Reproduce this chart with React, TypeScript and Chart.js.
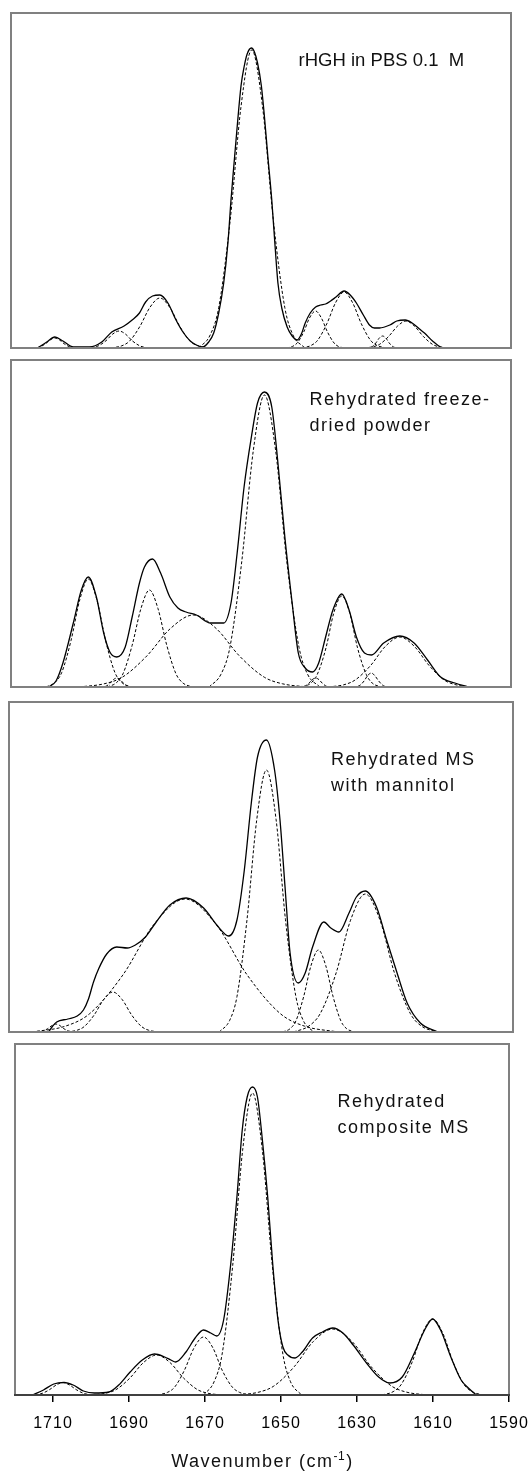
import React, { useEffect, useRef } from "react";
import { Chart, registerables } from "chart.js";

Chart.register(...registerables);

// ---------------- data (wavenumber in cm-1, absorbance in arbitrary units) ----------------
const xTicks = [1710, 1690, 1670, 1650, 1630, 1610, 1590];
const xMin = 1590;
const xMax = 1720;
const xAxisTitle = ["Wavenumber (cm", "-1", ")"];

// Panel 1: rHGH in PBS 0.1 M
const p1Label = ["rHGH in PBS 0.1  M"];
const p1YMax = 335;
const p1TotalWn = [1713.1, 1710.7, 1708.6, 1706.5, 1703.8, 1699.6, 1696.4, 1693.8, 1690.6, 1688.5, 1686.6, 1685.0, 1683.2, 1681.3, 1679.2, 1677.1, 1675.3, 1673.4, 1671.8, 1670.2, 1668.6, 1667.3, 1666.0, 1664.7, 1663.6, 1662.8, 1662.0, 1661.2, 1660.2, 1659.4, 1658.6, 1657.5, 1656.7, 1655.9, 1654.9, 1654.1, 1653.3, 1652.2, 1651.4, 1650.6, 1649.6, 1648.2, 1646.9, 1645.6, 1644.5, 1643.5, 1642.2, 1640.8, 1639.5, 1638.2, 1636.9, 1635.5, 1633.4, 1631.8, 1630.2, 1628.4, 1626.8, 1625.5, 1624.2, 1621.5, 1619.7, 1617.5, 1615.7, 1613.8, 1612.5, 1610.4, 1608.3, 1606.4];
const p1Total = [0, 6, 11, 7, 1, 1, 6, 16, 22, 28, 35, 46, 52, 53, 45, 28, 16, 7, 3, 1, 6, 15, 35, 65, 105, 148, 185, 221, 262, 281, 294, 300, 296, 285, 262, 231, 195, 148, 105, 65, 40, 21, 12, 8, 14, 25, 35, 41, 43, 44, 47, 51, 57, 53, 45, 33, 23, 20, 20, 23, 27, 28, 25, 19, 15, 7, 1, 0];
const p1b1Wn = [1714.5, 1713.2, 1712.3, 1711.0, 1709.8, 1708.6, 1707.4, 1706.2, 1704.9, 1704.0, 1702.7];
const p1b1 = [0, 0.4, 1.4, 4.3, 8.1, 10, 8.1, 4.3, 1.4, 0.4, 0];
const p1b2Wn = [1700.4, 1698.5, 1697.2, 1695.3, 1693.6, 1691.9, 1690.2, 1688.5, 1686.6, 1685.3, 1683.4];
const p1b2 = [0, 0.7, 2.3, 7.3, 13.8, 17, 13.8, 7.3, 2.3, 0.7, 0];
const p1b3Wn = [1694.0, 1691.2, 1689.2, 1686.5, 1683.9, 1681.3, 1678.7, 1676.1, 1673.4, 1671.4, 1668.6];
const p1b3 = [0, 2.2, 6.8, 21.5, 40.5, 50, 40.5, 21.5, 6.8, 2.2, 0];
const p1b4Wn = [1671.2, 1668.2, 1666.0, 1663.0, 1660.2, 1657.4, 1654.6, 1651.8, 1648.8, 1646.7, 1643.6];
const p1b4 = [0, 13.1, 40.2, 128.1, 241.4, 298, 241.4, 128.1, 40.2, 13.1, 0];
const p1b5Wn = [1648.4, 1646.8, 1645.6, 1643.9, 1642.4, 1640.8, 1639.3, 1637.7, 1636.0, 1634.9, 1633.2];
const p1b5 = [0, 1.6, 5.0, 15.9, 30.0, 37, 30.0, 15.9, 5.0, 1.6, 0];
const p1b6Wn = [1644.4, 1642.0, 1640.3, 1637.9, 1635.6, 1633.4, 1631.2, 1628.9, 1626.5, 1624.8, 1622.4];
const p1b6 = [0, 2.5, 7.6, 24.1, 45.4, 56, 45.4, 24.1, 7.6, 2.5, 0];
const p1b7Wn = [1627.6, 1626.7, 1626.0, 1625.1, 1624.3, 1623.4, 1622.5, 1621.7, 1620.8, 1620.1, 1619.2];
const p1b7 = [0, 0.5, 1.6, 5.2, 9.7, 12, 9.7, 5.2, 1.6, 0.5, 0];
const p1b8Wn = [1628.3, 1625.9, 1624.2, 1621.8, 1619.5, 1617.3, 1615.1, 1612.8, 1610.4, 1608.7, 1606.3];
const p1b8 = [0, 1.2, 3.6, 11.6, 21.9, 27, 21.9, 11.6, 3.6, 1.2, 0];

// Panel 2: Rehydrated freeze-dried powder
const p2Label = ["Rehydrated freeze-", "dried powder"];
const p2YMax = 327;
const p2TotalWn = [1710.2, 1708.3, 1706.5, 1703.8, 1701.7, 1699.9, 1697.8, 1695.9, 1694.3, 1692.5, 1690.3, 1688.5, 1686.6, 1685.3, 1683.2, 1681.1, 1678.7, 1676.6, 1674.5, 1671.8, 1668.1, 1664.7, 1662.8, 1661.2, 1659.4, 1657.5, 1655.9, 1654.1, 1652.2, 1650.6, 1648.8, 1646.9, 1645.3, 1643.5, 1641.6, 1640.0, 1638.2, 1636.3, 1634.0, 1632.1, 1630.2, 1628.1, 1626.3, 1623.1, 1618.9, 1615.2, 1611.7, 1608.3, 1604.6, 1601.1];
const p2Total = [0, 6, 24, 64, 97, 110, 90, 54, 35, 30, 40, 70, 104, 120, 128, 114, 90, 79, 75, 72, 64, 64, 84, 134, 200, 250, 284, 295, 280, 224, 150, 84, 34, 19, 15, 24, 50, 77, 93, 77, 50, 34, 32, 44, 51, 44, 27, 10, 4, 0];
const p2b1Wn = [1710.9, 1708.5, 1706.8, 1704.4, 1702.1, 1699.9, 1697.7, 1695.4, 1693.0, 1691.3, 1688.9];
const p2b1 = [0, 4.8, 14.6, 46.4, 87.5, 108, 87.5, 46.4, 14.6, 4.8, 0];
const p2b2Wn = [1696.7, 1695.8, 1695.1, 1694.2, 1693.4, 1692.5, 1691.6, 1690.8, 1689.9, 1689.2, 1688.3];
const p2b2 = [0, 0.4, 1.2, 3.9, 7.3, 9, 7.3, 3.9, 1.2, 0.4, 0];
const p2b3Wn = [1695.0, 1692.6, 1690.9, 1688.5, 1686.2, 1684.0, 1681.8, 1679.5, 1677.1, 1675.4, 1673.0];
const p2b3 = [0, 4.3, 13.1, 41.7, 78.6, 97, 78.6, 41.7, 13.1, 4.3, 0];
const p2b4Wn = [1702.3, 1695.8, 1691.1, 1684.7, 1678.6, 1672.6, 1666.6, 1660.6, 1654.1, 1649.4, 1642.9];
const p2b4 = [0, 3.2, 9.7, 31.0, 58.3, 72, 58.3, 31.0, 9.7, 3.2, 0];
const p2b5Wn = [1668.5, 1665.4, 1663.1, 1660.0, 1657.0, 1654.1, 1651.2, 1648.3, 1645.1, 1642.9, 1639.7];
const p2b5 = [0, 12.8, 39.4, 125.6, 236.5, 292, 236.5, 125.6, 39.4, 12.8, 0];
const p2b6Wn = [1645.0, 1644.1, 1643.4, 1642.5, 1641.7, 1640.8, 1639.9, 1639.1, 1638.2, 1637.5, 1636.6];
const p2b6 = [0, 0.4, 1.2, 3.9, 7.3, 9, 7.3, 3.9, 1.2, 0.4, 0];
const p2b7Wn = [1644.2, 1642.0, 1640.4, 1638.1, 1636.1, 1634.0, 1631.9, 1629.9, 1627.6, 1626.1, 1623.8];
const p2b7 = [0, 4.0, 12.3, 39.1, 73.7, 91, 73.7, 39.1, 12.3, 4.0, 0];
const p2b8Wn = [1631.0, 1630.0, 1629.2, 1628.2, 1627.3, 1626.3, 1625.4, 1624.4, 1623.4, 1622.7, 1621.6];
const p2b8 = [0, 0.6, 1.9, 6.0, 11.3, 14, 11.3, 6.0, 1.9, 0.6, 0];
const p2b9Wn = [1637.5, 1633.5, 1630.6, 1626.5, 1622.7, 1618.9, 1615.1, 1611.3, 1607.3, 1604.3, 1600.3];
const p2b9 = [0, 2.2, 6.8, 21.5, 40.5, 50, 40.5, 21.5, 6.8, 2.2, 0];

// Panel 3: Rehydrated MS with mannitol
const p3Label = ["Rehydrated MS", "with mannitol"];
const p3YMax = 330;
const p3TotalWn = [1709.8, 1708.7, 1707.7, 1704.8, 1702.4, 1700.8, 1699.5, 1698.2, 1696.9, 1694.8, 1692.2, 1689.5, 1687.4, 1684.8, 1682.2, 1678.5, 1674.3, 1669.8, 1666.4, 1663.3, 1661.2, 1659.3, 1657.5, 1655.9, 1653.6, 1651.5, 1650.1, 1648.8, 1647.5, 1645.4, 1643.6, 1641.7, 1638.8, 1637.0, 1634.9, 1632.3, 1630.4, 1628.1, 1625.2, 1622.6, 1619.9, 1617.3, 1613.9, 1609.4];
const p3Total = [0, 6, 10, 13, 16, 22, 33, 50, 63, 78, 85, 84, 87, 95, 109, 127, 134, 124, 107, 96, 112, 162, 229, 275, 292, 262, 212, 145, 79, 49, 59, 85, 110, 104, 100, 119, 135, 141, 125, 92, 59, 29, 9, 0];
const p3b1Wn = [1713.0, 1711.9, 1711.1, 1710.0, 1708.9, 1707.9, 1706.9, 1705.9, 1704.7, 1704.0, 1702.9];
const p3b1 = [0, 0.4, 1.1, 3.4, 6.5, 8, 6.5, 3.4, 1.1, 0.4, 0];
const p3b2Wn = [1705.0, 1702.4, 1700.6, 1698.0, 1695.6, 1693.2, 1690.8, 1688.4, 1685.8, 1684.0, 1681.4];
const p3b2 = [0, 1.8, 5.4, 17.2, 32.4, 40, 32.4, 17.2, 5.4, 1.8, 0];
const p3b3Wn = [1714.1, 1705.4, 1699.3, 1690.6, 1682.6, 1674.6, 1666.6, 1658.6, 1649.9, 1643.8, 1635.1];
const p3b3 = [0, 5.9, 18.0, 57.2, 107.7, 133, 107.7, 57.2, 18.0, 5.9, 0];
const p3b4Wn = [1665.8, 1663.1, 1661.2, 1658.6, 1656.1, 1653.6, 1651.1, 1648.7, 1646.0, 1644.1, 1641.4];
const p3b4 = [0, 11.5, 35.4, 112.7, 212.2, 262, 212.2, 112.7, 35.4, 11.5, 0];
const p3b5Wn = [1649.4, 1647.4, 1646.0, 1644.0, 1642.1, 1640.2, 1638.3, 1636.4, 1634.4, 1633.0, 1631.0];
const p3b5 = [0, 3.6, 11.1, 35.3, 66.4, 82, 66.4, 35.3, 11.1, 3.6, 0];
const p3b6Wn = [1646.6, 1642.6, 1639.7, 1635.6, 1631.9, 1628.1, 1624.3, 1620.6, 1616.5, 1613.7, 1609.6];
const p3b6 = [0, 6.1, 18.6, 59.3, 111.8, 138, 111.8, 59.3, 18.6, 6.1, 0];

// Panel 4: Rehydrated composite MS
const p4Label = ["Rehydrated", "composite MS"];
const p4YMax = 351;
const p4TotalWn = [1715.4, 1712.5, 1709.8, 1707.1, 1704.7, 1702.0, 1699.1, 1695.3, 1692.7, 1689.7, 1686.5, 1683.3, 1680.6, 1679.0, 1677.7, 1675.0, 1672.6, 1670.4, 1668.5, 1666.9, 1665.1, 1663.2, 1661.6, 1660.2, 1658.9, 1657.5, 1656.2, 1654.9, 1653.5, 1652.2, 1650.8, 1649.5, 1648.2, 1646.3, 1644.4, 1641.7, 1639.1, 1636.4, 1633.7, 1631.0, 1627.5, 1624.3, 1621.4, 1618.1, 1614.9, 1612.2, 1610.1, 1608.0, 1605.3, 1602.6, 1600.7, 1598.6];
const p4Total = [0, 5, 11, 12.5, 10, 4, 2, 3, 10, 23, 35, 41, 38, 35, 33, 43, 57, 65, 62, 59, 75, 132, 198, 265, 298, 308, 298, 255, 198, 132, 75, 48, 40, 37, 43, 57, 63, 67, 62, 50, 32, 18, 12, 18, 42, 65, 76, 65, 38, 15, 7, 0];
const p4b1Wn = [1716.0, 1714.1, 1712.8, 1710.9, 1709.1, 1707.4, 1705.7, 1703.9, 1702.0, 1700.7, 1698.8];
const p4b1 = [0, 0.6, 1.7, 5.4, 10.1, 12.5, 10.1, 5.4, 1.7, 0.6, 0];
const p4b2Wn = [1699.9, 1696.1, 1693.4, 1689.7, 1686.2, 1682.7, 1679.2, 1675.7, 1672.0, 1669.3, 1665.6];
const p4b2 = [0, 1.8, 5.4, 17.2, 32.4, 40, 32.4, 17.2, 5.4, 1.8, 0];
const p4b3Wn = [1682.6, 1679.9, 1678.0, 1675.4, 1672.9, 1670.4, 1667.9, 1665.5, 1662.8, 1660.9, 1658.2];
const p4b3 = [0, 2.6, 7.8, 24.9, 47.0, 58, 47.0, 24.9, 7.8, 2.6, 0];
const p4b4Wn = [1670.4, 1667.6, 1665.5, 1662.7, 1660.1, 1657.5, 1654.9, 1652.3, 1649.5, 1647.5, 1644.6];
const p4b4 = [0, 13.3, 40.8, 129.9, 244.6, 302, 244.6, 129.9, 40.8, 13.3, 0];
const p4b5Wn = [1661.3, 1655.8, 1651.9, 1646.5, 1641.5, 1636.4, 1631.3, 1626.3, 1620.9, 1617.0, 1611.5];
const p4b5 = [0, 2.9, 8.9, 28.4, 53.5, 66, 53.5, 28.4, 8.9, 2.9, 0];
const p4b6Wn = [1623.4, 1620.5, 1618.4, 1615.5, 1612.8, 1610.1, 1607.4, 1604.7, 1601.8, 1599.7, 1596.8];
const p4b6 = [0, 3.3, 10.3, 32.7, 61.6, 76, 61.6, 32.7, 10.3, 3.3, 0];

const PANELS = [
  {
    label: p1Label, yMax: p1YMax, totalWn: p1TotalWn, total: p1Total,
    bands: [[p1b1Wn, p1b1], [p1b2Wn, p1b2], [p1b3Wn, p1b3], [p1b4Wn, p1b4], [p1b5Wn, p1b5], [p1b6Wn, p1b6], [p1b7Wn, p1b7], [p1b8Wn, p1b8]],
  },
  {
    label: p2Label, yMax: p2YMax, totalWn: p2TotalWn, total: p2Total,
    bands: [[p2b1Wn, p2b1], [p2b2Wn, p2b2], [p2b3Wn, p2b3], [p2b4Wn, p2b4], [p2b5Wn, p2b5], [p2b6Wn, p2b6], [p2b7Wn, p2b7], [p2b8Wn, p2b8], [p2b9Wn, p2b9]],
  },
  {
    label: p3Label, yMax: p3YMax, totalWn: p3TotalWn, total: p3Total,
    bands: [[p3b1Wn, p3b1], [p3b2Wn, p3b2], [p3b3Wn, p3b3], [p3b4Wn, p3b4], [p3b5Wn, p3b5], [p3b6Wn, p3b6]],
  },
  {
    label: p4Label, yMax: p4YMax, totalWn: p4TotalWn, total: p4Total,
    bands: [[p4b1Wn, p4b1], [p4b2Wn, p4b2], [p4b3Wn, p4b3], [p4b4Wn, p4b4], [p4b5Wn, p4b5], [p4b6Wn, p4b6]],
  },
];

// ---------------- layout & style ----------------
const FONT = '"Liberation Sans", Arial, Helvetica, sans-serif';
const PAGE_W = 532;
const PAGE_H = 1472;
const PAD = 4;
const AXIS_H = 77;
const LAYOUT = [
  { left: 11, right: 511, top: 13, bottom: 348, labelX: 298.6, labelY: [66], labelSize: 18.5, labelSpacing: 0 },
  { left: 11, right: 511, top: 360, bottom: 687, labelX: 309.5, labelY: [405, 431], labelSize: 18, labelSpacing: 1.5 },
  { left: 9, right: 513, top: 702, bottom: 1032, labelX: 331, labelY: [765, 791], labelSize: 18, labelSpacing: 1.5 },
  { left: 15, right: 509, top: 1044, bottom: 1395, labelX: 337.6, labelY: [1107, 1133], labelSize: 18, labelSpacing: 1.5 },
];
const TITLE_BASELINE = 1467;

function SpectrumPanel({ index }: { index: number }) {
  const ref = useRef<HTMLCanvasElement | null>(null);
  const lay = LAYOUT[index];
  const isLast = index === PANELS.length - 1;
  const canvasTop = lay.top - PAD;
  const canvasH = isLast ? PAGE_H - canvasTop : lay.bottom - lay.top + 2 * PAD;

  useEffect(() => {
    const p = PANELS[index];
    const toPts = (xs: number[], ys: number[]) => xs.map((x, i) => ({ x, y: ys[i] }));
    const bandSets = p.bands.map(([xs, ys]) => ({
      data: toPts(xs as number[], ys as number[]),
      borderColor: "#000",
      borderWidth: 1,
      borderDash: [3, 2],
      pointRadius: 0,
      fill: false,
      cubicInterpolationMode: "monotone",
    }));
    const totalSet = {
      data: toPts(p.totalWn, p.total),
      borderColor: "#000",
      borderWidth: 1.3,
      pointRadius: 0,
      fill: false,
      cubicInterpolationMode: "monotone",
    };

    const frame = {
      id: "frame" + index,
      beforeDraw(chart: any) {
        if (isLast) chart.ctx.letterSpacing = "1px";
      },
      afterDraw(chart: any) {
        const { ctx, chartArea: a } = chart;
        ctx.save();
        ctx.letterSpacing = "0px";
        ctx.strokeStyle = "#808080";
        ctx.lineWidth = 2;
        ctx.strokeRect(a.left, a.top, a.right - a.left, a.bottom - a.top);
        if (isLast) {
          ctx.strokeStyle = "#404040";
          ctx.beginPath();
          ctx.moveTo(a.left - 1, a.bottom);
          ctx.lineTo(a.right + 1, a.bottom);
          ctx.stroke();
        }
        ctx.fillStyle = "#111";
        ctx.textAlign = "left";
        ctx.textBaseline = "alphabetic";
        ctx.font = `${lay.labelSize}px ${FONT}`;
        ctx.letterSpacing = `${lay.labelSpacing}px`;
        p.label.forEach((line: string, i: number) => {
          ctx.fillText(line, lay.labelX, lay.labelY[i] - canvasTop);
        });
        if (isLast) {
          const base = TITLE_BASELINE - canvasTop;
          ctx.letterSpacing = "1.5px";
          ctx.font = `18px ${FONT}`;
          const w1 = ctx.measureText(xAxisTitle[0]).width;
          const w3 = ctx.measureText(xAxisTitle[2]).width;
          ctx.font = `12px ${FONT}`;
          ctx.letterSpacing = "0.5px";
          const w2 = ctx.measureText(xAxisTitle[1]).width;
          const x0 = (a.left + a.right) / 2 - (w1 + w2 + w3) / 2;
          ctx.fillText(xAxisTitle[1], x0 + w1, base - 7);
          ctx.font = `18px ${FONT}`;
          ctx.letterSpacing = "1.5px";
          ctx.fillText(xAxisTitle[0], x0, base);
          ctx.fillText(xAxisTitle[2], x0 + w1 + w2 + 1, base);
        }
        ctx.restore();
      },
    };

    const chart = new Chart(ref.current as HTMLCanvasElement, {
      type: "line",
      data: { datasets: [...bandSets, totalSet] as any },
      options: {
        responsive: true,
        maintainAspectRatio: false,
        animation: false,
        devicePixelRatio: 1,
        events: [],
        layout: {
          padding: { left: lay.left, right: PAGE_W - lay.right, top: PAD, bottom: isLast ? 0 : PAD },
        },
        plugins: { legend: { display: false }, tooltip: { enabled: false }, title: { display: false } },
        scales: {
          x: {
            type: "linear",
            min: xMin,
            max: xMax,
            reverse: true,
            display: isLast,
            afterBuildTicks: (s: any) => {
              s.ticks = xTicks.map((v) => ({ value: v }));
            },
            afterFit: (s: any) => {
              s.height = isLast ? AXIS_H : 0;
              s.paddingLeft = 0;
              s.paddingRight = 0;
            },
            grid: {
              display: true,
              drawOnChartArea: false,
              drawTicks: true,
              tickLength: 7,
              color: "#000",
              lineWidth: 1.5,
            },
            border: { display: false },
            ticks: {
              color: "#000",
              padding: 12,
              autoSkip: false,
              maxRotation: 0,
              font: { family: FONT, size: 16 },
              callback: (v: any) => String(v),
            },
          },
          y: { display: false, min: 0, max: p.yMax },
        },
      } as any,
      plugins: [frame],
    });
    return () => chart.destroy();
  }, [index]);

  return (
    <div style={{ position: "absolute", left: 0, top: canvasTop, width: PAGE_W, height: canvasH }}>
      <canvas ref={ref} style={{ display: "block" }} />
    </div>
  );
}

export default function App() {
  return (
    <div style={{ position: "absolute", left: 0, top: 0, width: PAGE_W, height: PAGE_H, background: "#fff", overflow: "hidden" }}>
      {PANELS.map((_, i) => (
        <SpectrumPanel key={i} index={i} />
      ))}
    </div>
  );
}
